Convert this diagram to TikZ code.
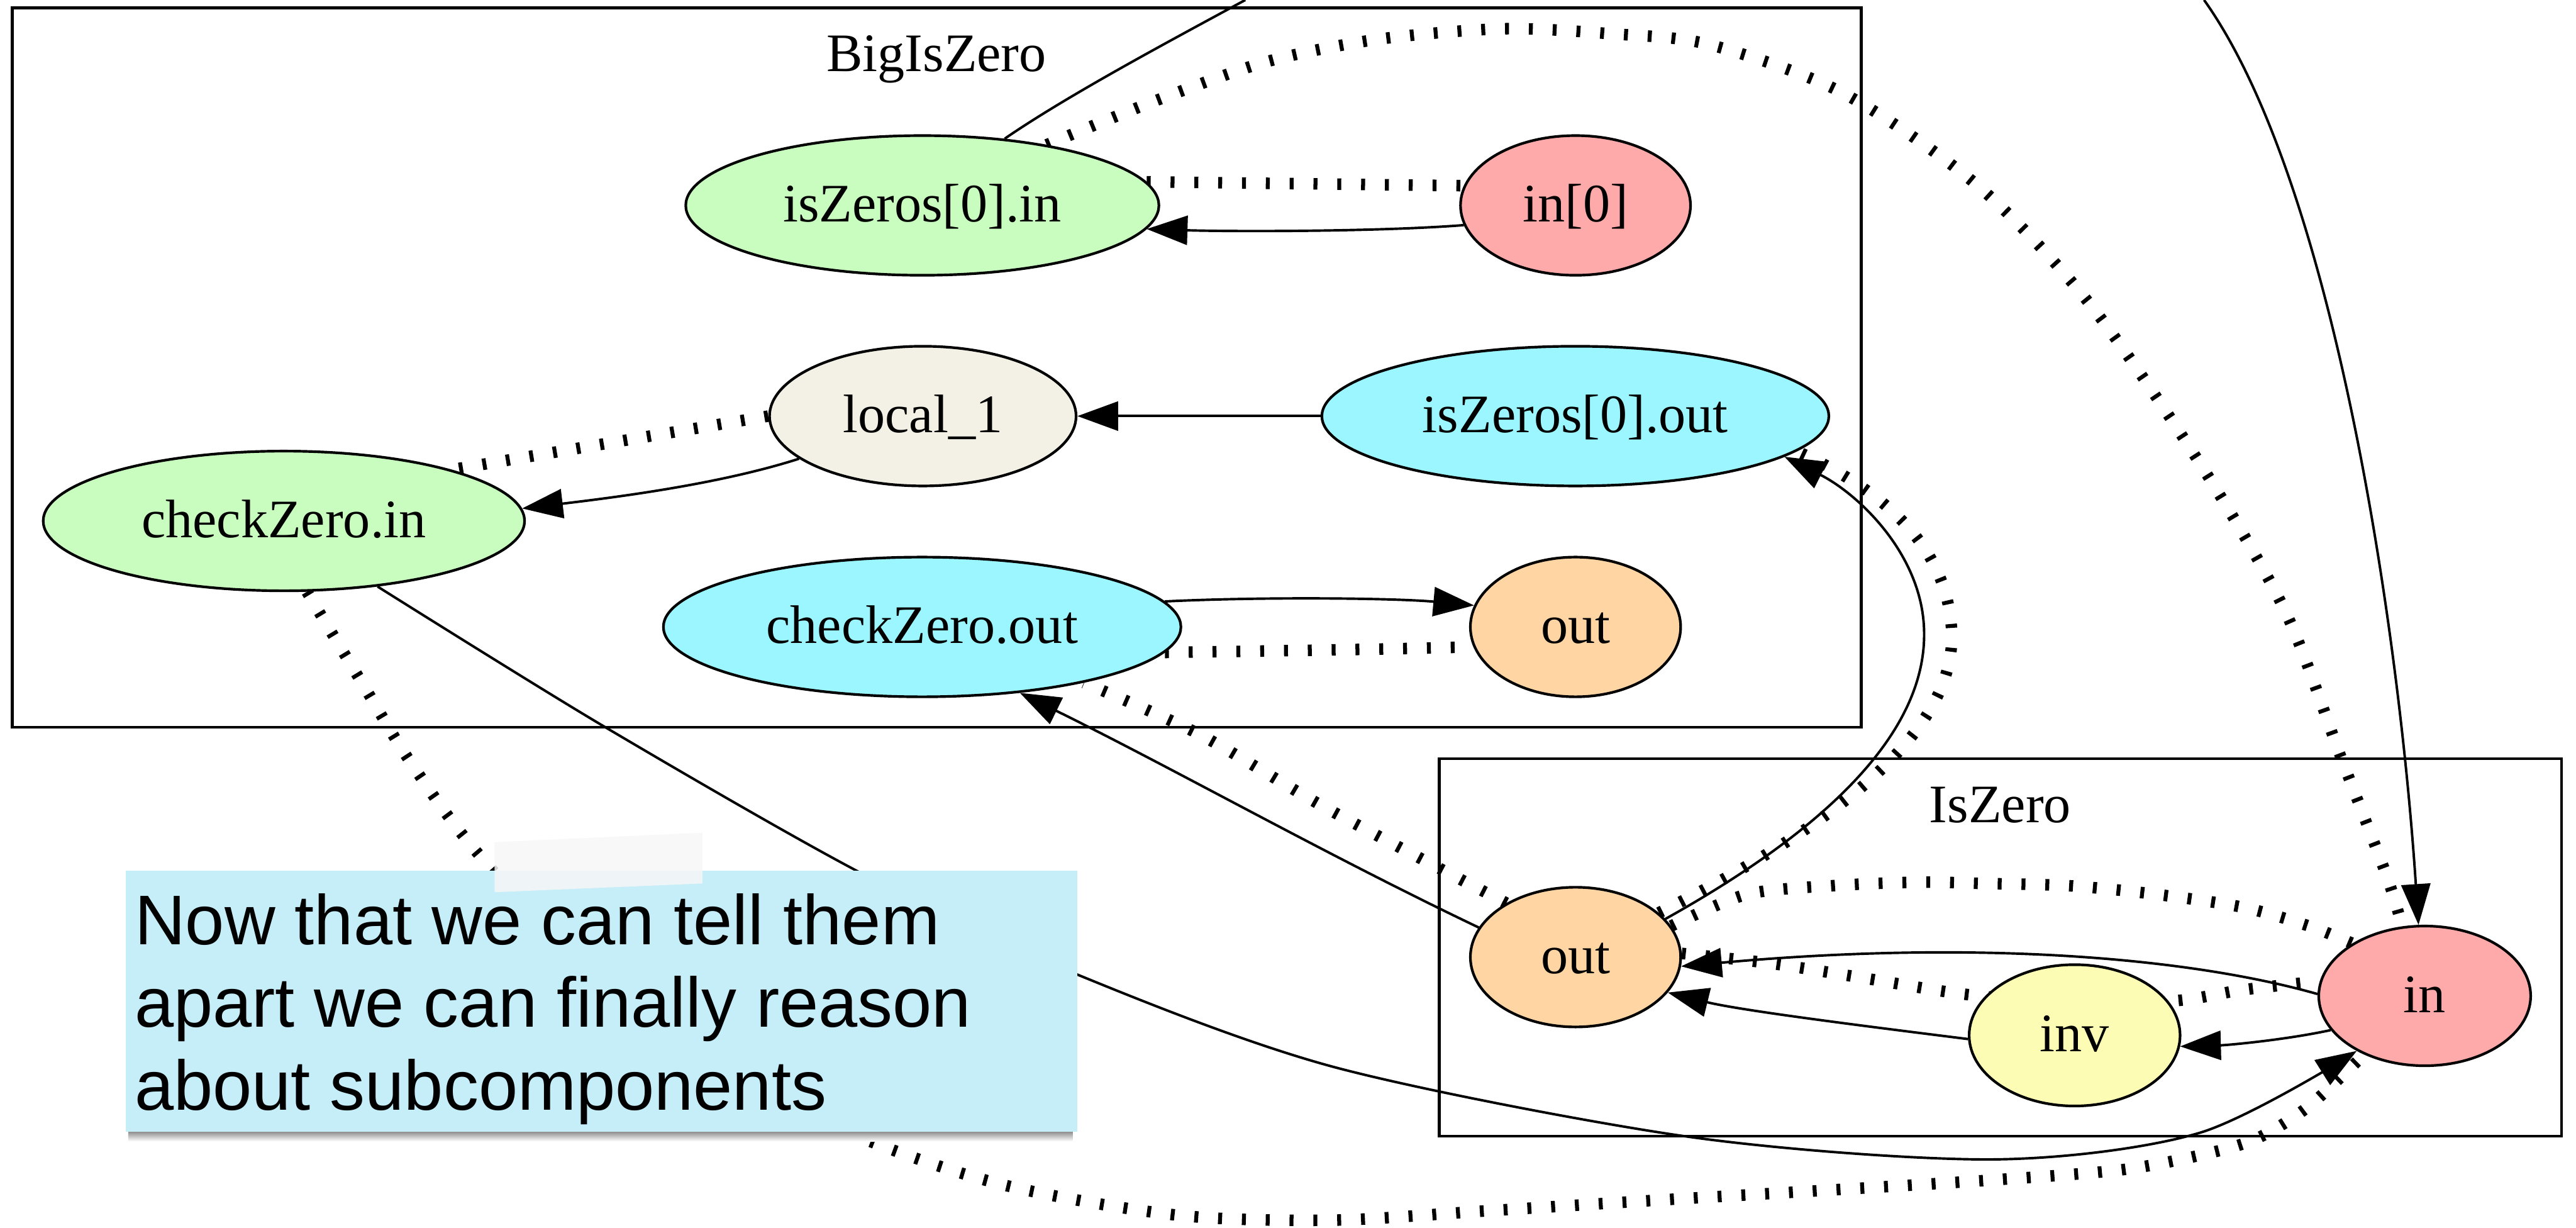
\documentclass[tikz,border=0pt]{standalone}
\usepackage{fontspec}
\setmainfont{Liberation Serif}
\newfontfamily\notefont{Liberation Sans}
\usetikzlibrary{arrows.meta,shapes.geometric,backgrounds}
\definecolor{gvgreen}{HTML}{C9FCBF}
\definecolor{gvpink}{HTML}{FFAAAA}
\definecolor{gvcyan}{HTML}{9CF6FF}
\definecolor{gvpeach}{HTML}{FFD5A4}
\definecolor{gvbeige}{HTML}{F3F1E6}
\definecolor{gvyellow}{HTML}{FCFCB4}
\definecolor{notecol}{HTML}{C5EEF9}
\newcommand\gvfont{\fontsize{33}{40}\selectfont}
\begin{document}
\begin{tikzpicture}[x=1pt,y=-1pt,
  gvnode/.style={ellipse, draw=black, line width=1.6pt, inner sep=0pt,
    minimum height=85pt, font=\gvfont, text height=26pt, text depth=6pt},
  cluster/.style={draw=black, line width=1.7pt},
  clusterlabel/.style={font=\gvfont, anchor=base, inner sep=0pt},
  solidedge/.style={line width=1.5pt, -{Triangle[length=24.8pt,width=17.7pt]}},
  plainedge/.style={line width=1.5pt},
  dotedge/.style={line width=7pt, dash pattern=on 2.4pt off 12.1pt}
]
\useasboundingbox (0,0) rectangle (1568,747);

% nodes
\node[gvnode, fill=gvgreen, minimum width=288pt] (iz0in) at (561.4,125) {isZeros[0].in};
\node[gvnode, fill=gvpink, minimum width=140pt] (in0) at (959,125) {in[0]};
\node[gvnode, fill=gvbeige, minimum width=186.6pt] (local1) at (561.7,253.2) {local\_1};
\node[gvnode, fill=gvcyan, minimum width=308.6pt] (iz0out) at (958.9,253.2) {isZeros[0].out};
\node[gvnode, fill=gvgreen, minimum width=293pt] (czin) at (172.8,317) {checkZero.in};
\node[gvnode, fill=gvcyan, minimum width=315pt] (czout) at (561.3,381.5) {checkZero.out};
\node[gvnode, fill=gvpeach, minimum width=128pt] (outB) at (959,381.5) {out};
\node[gvnode, fill=gvpeach, minimum width=128pt] (outZ) at (959,582.4) {out};
\node[gvnode, fill=gvyellow, minimum width=128.4pt, minimum height=86pt] (inv) at (1262.8,630) {inv};
\node[gvnode, fill=gvpink, minimum width=129pt] (inZ) at (1475.9,606) {in};

\coordinate (topA) at (758,0);
\coordinate (topB) at (1341.6,0);

\begin{pgfonlayer}{background}
\fill[white] (0,0) rectangle (1568,747);
% clusters
\draw[cluster] (7.5,4.8) rectangle (1133,442.6);
\draw[cluster] (876,461.6) rectangle (1559.2,691.4);

% edges
\draw[plainedge] (iz0in.39) .. controls (650,58) and (710,26) .. (topA);
\draw[solidedge] (topB) .. controls (1420,110) and (1460,380) .. (inZ.95);
\draw[dotedge] plot[smooth] coordinates {(iz0in.26) (703.6,61.2) (771.5,37.4) (839.5,23.8) (915,17.5) (980,20.5) (1040,27) (1121.4,56.4) (1203.4,112.6) (1271.6,184.4) (1340,283.4) (1391,372) (1425,461) (1452.6,532.6) (inZ.108)};
\draw[dotedge] (iz0in.6) -- (in0.170);
\draw[solidedge] (in0.190) .. controls (840,141) and (750,141) .. (iz0in.-6);
\draw[solidedge] (iz0out.west) -- (local1.east);
\draw[dotedge] (local1.180) -- (czin.17);
\draw[solidedge] (local1.199) .. controls (440,294) and (380,302) .. (czin.3);
\draw[solidedge] (czout.6) .. controls (770,363) and (850,364) .. (outB.168);
\draw[dotedge] (czout.-6) .. controls (780,396) and (850,395) .. (outB.191);
\draw[solidedge] (outZ.163) .. controls (807,520) and (715,468) .. (czout.-34);
\draw[dotedge] plot[smooth] coordinates {(outZ.142) (876,528.3) (802,488.8) (729.6,446.6) (czout.-19)};
\draw[solidedge] (outZ.23) .. controls (1120,500) and (1175,440) .. (1171,380)
  .. controls (1168,335) and (1130,300) .. (iz0out.-11);
\draw[dotedge] (outZ.28) .. controls (1118,502) and (1190,445) .. (1188,385)
  .. controls (1186,335) and (1150,300) .. (iz0out.-9);
\draw[dotedge] plot[smooth] coordinates {(outZ.18) (1063.3,544.2) (1116.1,538.9) (1168.9,536.8) (1207,537.6) (1259.8,539) (1312.5,544.2) (1365.3,552.1) (1404.9,563.3) (inZ.144)};
\draw[solidedge] (inZ.179) .. controls (1330,582) and (1200,572) .. (outZ.-5);
\draw[dotedge] plot[smooth] coordinates {(outZ.2) (1079.2,586.4) (1137.2,595.6) (1195.2,604.9) (1265,611) (1325.7,608.8) (1365.3,602.3) (inZ.172)};
\draw[solidedge] (inv.182) .. controls (1140,625) and (1060,615) .. (outZ.-21);
\draw[solidedge] (inZ.200) .. controls (1390,633) and (1355,636) .. (inv.-6);
\draw[solidedge] plot[smooth] coordinates {(czin.-35) (366.9,441.6) (523.6,531) (655.7,593) (813.5,649.7) (1029,691.9) (1213,705.5) (1339,689.3) (inZ.219)};
\draw[dotedge] plot[smooth] coordinates {(czin.-72) (221.6,417.6) (250.7,465) (294.2,523.1) (400,635) (519.8,690.6) (610.8,721) (716.4,739.4) (810,742.5) (905,736.8) (1010.6,730.2) (1116.1,724) (1213.2,718) (1290,712) (1339,703) (1373.2,693) (1404.9,673.5) (inZ.224)};
\end{pgfonlayer}

% cluster labels
\node[clusterlabel] (lblbig) at (570,43.5) {BigIsZero};
\node[clusterlabel] (lbliszero) at (1217.5,500.7) {IsZero};

% note
\shade[top color=black!45, bottom color=white] (78,688.5) rectangle (653,694.5);
\node[fill=notecol, inner sep=0pt, minimum width=579.2pt, minimum height=159.1pt] (note) at (366.1,609.25) {};
\fill[gray!6, opacity=0.85] (301,512.5) -- (427.5,506.7) -- (427.5,537.6) -- (301,542.9) -- cycle;
\node[anchor=base west, inner sep=0pt, font=\notefont\fontsize{42.8}{50.4}\selectfont] (notetext) at (81.8,574.6)
  {\vtop{\hbox{Now that we can tell them}\hbox{apart we can finally reason}\hbox{about subcomponents}}};
\end{tikzpicture}
\end{document}
